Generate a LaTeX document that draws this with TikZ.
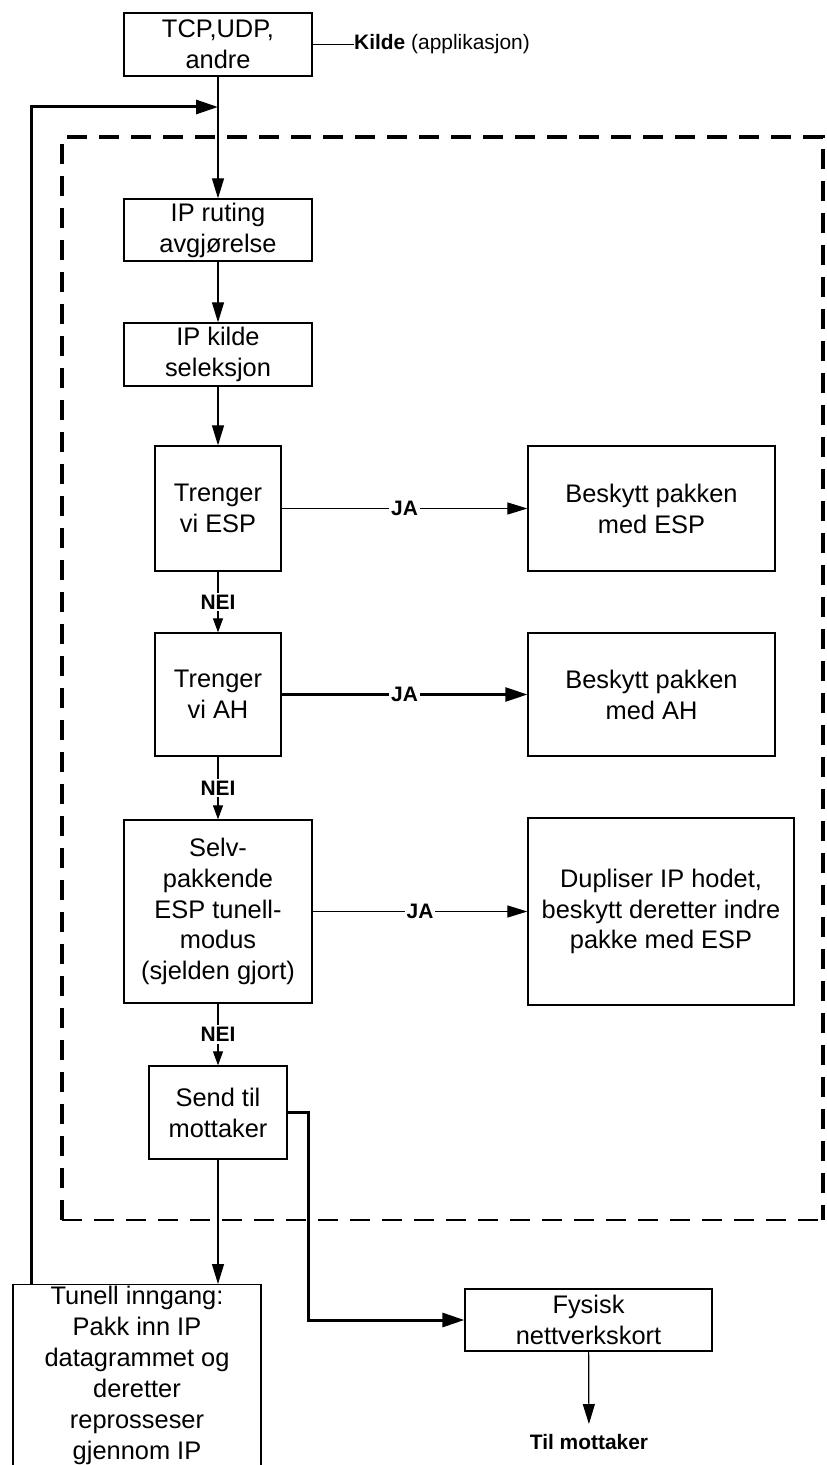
\documentclass[tikz,border=0pt]{standalone}
\usepackage{fontspec}
\setmainfont{Liberation Sans}
\usetikzlibrary{arrows.meta}
\begin{document}
\begin{tikzpicture}[x=1bp,y=-1bp,
  box/.style={draw, line width=1.3bp, align=center, inner sep=0pt,
    font=\fontsize{25.5}{31}\selectfont},
  lbl/.style={font=\fontsize{21}{24}\selectfont\bfseries, fill=white, inner sep=2bp},
  arr/.style={line width=1.2bp, -{Triangle[length=20bp,width=12bp]}},
  arrsmall/.style={line width=1.2bp, -{Triangle[length=14bp,width=10bp]}},
  thickarr/.style={line width=3bp, -{Triangle[length=22bp,width=14bp]}},
  frameline/.style={dash pattern=on 20bp off 12bp, line width=3.2bp},
]
\useasboundingbox (0,0) rectangle (826,1465);
\clip (0,0) rectangle (826,1465);
\fill[white] (0,0) rectangle (826,1465);

% boundary of the IPsec processing
\draw[frameline] (62,1220) -- (62,137) -- (823,137) -- (823,1220);
\draw[frameline, line width=2bp] (62,1220) -- (823,1220);

% boxes
\node[box, minimum width=188bp, minimum height=63bp] (tcp) at (218,44.5) {TCP,UDP,\\andre};
\node[anchor=west, inner sep=0pt, font=\fontsize{21}{24}\selectfont] (kilde) at (354,44.5) {\textbf{Kilde} (applikasjon)};
\node[box, minimum width=188bp, minimum height=62bp] (iprut) at (218,230) {IP ruting\\avgjørelse};
\node[box, minimum width=188bp, minimum height=63bp] (ipkil) at (218,354.5) {IP kilde\\seleksjon};
\node[box, minimum width=126bp, minimum height=125bp] (tesp) at (218,508.5) {Trenger\\vi ESP};
\node[box, minimum width=247bp, minimum height=125bp] (besp) at (651.5,508.5) {Beskytt pakken\\med ESP};
\node[box, minimum width=126bp, minimum height=123bp] (tah) at (218,694.5) {Trenger\\vi AH};
\node[box, minimum width=247bp, minimum height=123bp] (bah) at (651.5,694.5) {Beskytt pakken\\med AH};
\node[box, minimum width=188bp, minimum height=183bp] (selv) at (218,911.5) {Selv-\\pakkende\\ESP tunell-\\modus\\(sjelden gjort)};
\node[box, minimum width=266bp, minimum height=187bp] (dup) at (661,911.5) {Dupliser IP hodet,\\beskytt deretter indre\\pakke med ESP};
\node[box, minimum width=138bp, minimum height=93bp] (send) at (218,1112.5) {Send til\\mottaker};
\node[box, minimum width=247bp, minimum height=62bp] (fys) at (588.5,1320) {Fysisk\\nettverkskort};
% the tunnel box runs on past the lower edge; its text hangs from the top
\node[box, anchor=north, minimum width=248bp, text height=20bp, text depth=230bp] (tun) at (137,1284)
  {\begin{tabular}[t]{@{}c@{}}Tunell inngang:\\Pakk inn IP\\datagrammet og\\deretter\\reprosseser\\gjennom IP\end{tabular}};
\node[anchor=north, inner xsep=0pt, inner ysep=10bp, font=\fontsize{21}{24}\selectfont\bfseries] (til) at (589,1424) {Til mottaker};

\coordinate (merge) at (218,107);

% connectors
\draw[line width=1.2bp] (tcp.east) -- (kilde.west);
\draw[arr] (tcp) -- (iprut);
\draw[thickarr] ([xshift=19bp]tun.north west) |- (merge);
\draw[arr] (iprut) -- (ipkil);
\draw[arr] (ipkil) -- (tesp);
\draw[arr] (tesp) -- node[lbl] {JA} (besp);
\draw[arrsmall] (tesp) -- node[lbl] {NEI} (tah);
\draw[thickarr, line width=2.6bp] (tah) -- node[lbl] {JA} (bah);
\draw[arrsmall] (tah) -- node[lbl] {NEI} (selv);
\draw[arr] (selv) -- node[lbl] {JA} (dup);
\draw[arrsmall] (selv) -- node[lbl] {NEI} (send);
\draw[arr] (send.south) -- (send.south |- tun.north);
\draw[thickarr] (send.east) -- ++(21,0) |- (fys.west);
\draw[arr] (fys) -- (til);
\end{tikzpicture}
\end{document}
